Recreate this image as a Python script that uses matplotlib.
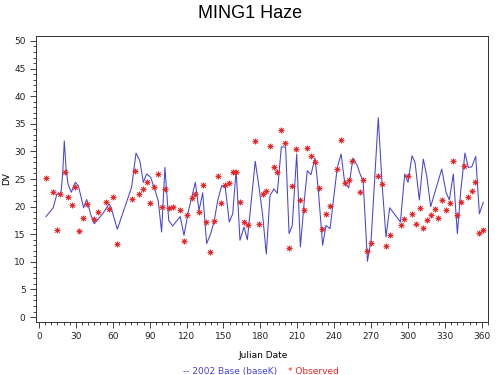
import matplotlib
matplotlib.use("Agg")
import matplotlib.pyplot as plt
from matplotlib.ticker import MultipleLocator

obs_day = [5.5, 11.5, 14.6, 17.3, 20.9, 23.6, 26.6, 29.5, 32.8, 35.8, 38.8, 45.0, 48.0, 54.2, 57.2,
           60.2, 63.2, 75.3, 78.3, 81.6, 84.8, 87.5, 90.2, 93.5, 96.7, 99.7, 102.7, 105.7, 108.7,
           114.6, 117.6, 120.6, 124.1, 127.1, 130.1, 133.1, 136.0, 139.0, 142.3, 145.3, 148.2,
           151.5, 154.5, 157.5, 160.4, 163.7, 166.7, 169.7, 175.9, 178.9, 181.8, 184.8, 187.8,
           190.8, 193.7, 196.7, 200.0, 203.0, 205.9, 208.9, 212.2, 215.2, 218.1, 221.1, 224.4,
           227.4, 230.3, 233.3, 236.3, 242.5, 245.5, 248.5, 251.8, 254.7, 261.0, 263.7, 266.7,
           269.9, 275.9, 278.9, 281.9, 285.1, 294.1, 297.0, 300.2, 303.6, 306.5, 309.5, 312.4,
           315.7, 318.7, 321.7, 324.6, 327.6, 330.9, 333.9, 336.8, 339.8, 342.8, 345.8, 348.8,
           351.8, 354.7, 358.0, 361.0]
obs_val = [25.2, 22.7, 15.7, 22.3, 26.2, 21.8, 20.3, 23.5, 15.6, 17.9, 20.5, 17.7, 19.0, 20.9, 19.6,
           21.8, 13.2, 21.3, 26.4, 22.2, 23.1, 24.5, 20.6, 23.6, 25.9, 20.0, 23.2, 19.7, 20.0,
           19.3, 13.8, 18.5, 21.5, 22.3, 19.1, 24.0, 17.2, 11.7, 17.4, 25.6, 20.6,
           24.0, 24.2, 26.2, 26.3, 20.9, 17.2, 16.7, 31.9, 16.8, 22.2, 22.8, 31.0,
           27.1, 26.2, 33.9, 31.6, 12.5, 23.8, 30.5, 21.2, 19.4, 30.7, 29.1, 28.0,
           23.3, 16.0, 18.7, 20.2, 26.9, 32.0, 24.2, 24.8, 28.2, 22.7, 24.9, 12.0,
           13.4, 25.5, 24.1, 12.9, 14.8, 16.7, 17.8, 25.5, 18.7, 16.9, 19.8, 16.1,
           17.5, 18.4, 19.5, 17.9, 21.2, 19.4, 20.6, 28.2, 18.5, 20.9, 27.3, 21.8,
           22.9, 24.5, 15.3, 15.8]

model_day = [5.7, 11.6, 14.6, 17.9, 19.3, 20.6, 22.0, 23.6, 26.3, 29.5, 32.0, 36.3, 38.8, 42.3, 45.0,
             51.8, 57.0, 58.5, 63.7, 75.3, 78.9, 82.0, 84.8, 87.5, 90.8, 94.3, 97.0, 99.7, 102.4,
             105.5, 108.7, 114.8, 117.9, 121.3, 127.1, 130.1, 133.1, 136.3, 139.6, 142.3, 145.3,
             148.5, 151.5, 154.7, 157.5, 160.3, 163.4, 166.7, 169.4, 175.8, 178.9, 181.8, 184.8,
             187.8, 191.0, 193.7, 197.0, 200.5, 203.3, 205.9, 209.5, 212.5, 215.7, 218.1, 221.1,
             224.4, 227.0, 230.6, 233.3, 236.6, 242.5, 245.6, 248.5, 251.8, 255.2, 258.8, 261.2,
             263.5, 267.0, 270.0, 275.8, 278.9, 282.1, 285.1, 293.8, 297.3, 300.0, 303.2, 305.7,
             309.2, 312.4, 315.2, 318.4, 327.4, 330.9, 333.6, 336.8, 340.1, 343.0, 346.3, 349.0,
             351.8, 355.0, 358.0, 361.2]
model_val = [18.2, 19.8, 22.3, 22.4, 26.0, 31.9, 27.0, 24.1, 22.6, 24.4, 23.8, 19.8, 21.3, 18.4, 16.9,
             18.7, 20.5, 19.9, 15.9, 23.5, 29.7, 28.3, 24.4, 25.9, 25.3, 23.0, 21.0, 15.4, 27.1,
             17.5, 16.5, 18.2, 14.8, 19.0, 24.4, 19.3, 22.5, 13.3, 15.1, 17.2, 21.1,
             23.8, 23.4, 17.2, 18.7, 26.6, 13.9, 16.3, 14.0, 28.2, 23.5, 18.5, 11.4,
             22.0, 23.2, 22.4, 30.8, 30.8, 15.1, 16.6, 29.5, 12.7, 21.1, 26.5, 25.8,
             28.8, 23.2, 13.0, 16.6, 16.0, 27.1, 29.5, 24.4, 23.4, 28.8, 27.4, 25.8,
             24.7, 10.1, 14.0, 36.1, 24.1, 14.5, 19.8, 17.2, 25.9, 24.4, 29.2, 28.0,
             21.2, 28.6, 25.6, 20.0, 26.8, 22.6, 21.2, 25.9, 15.1, 23.2, 29.7, 27.1,
             27.2, 29.1, 18.7, 20.8]

x_ticks = [0, 30, 60, 90, 120, 150, 180, 210, 240, 270, 300, 330, 360]
y_ticks = [0, 5, 10, 15, 20, 25, 30, 35, 40, 45, 50]

LINE_C = "#4444d8"
OBS_C = "#e82828"

fig = plt.figure(figsize=(5.0, 3.75), dpi=100)
ax = fig.add_axes([0.072, 0.1413, 0.904, 0.7627])

ax.plot(model_day, model_val, color=LINE_C, lw=0.75, zorder=2)
ax.plot(obs_day, obs_val, linestyle="none", marker=(8, 2, 0), markersize=4,
        markeredgecolor=OBS_C, markeredgewidth=0.6, color=OBS_C, zorder=3)

ax.set_xlim(-2.4, 365)
ax.set_ylim(-0.9, 50.9)
ax.set_xticks(x_ticks)
ax.set_yticks(y_ticks)
ax.xaxis.set_minor_locator(MultipleLocator(5))
ax.yaxis.set_minor_locator(MultipleLocator(1))
ax.tick_params(axis="both", which="major", direction="out", length=4, width=0.6,
               labelsize=6.5, colors="#222222")
ax.tick_params(axis="both", which="minor", direction="out", length=2, width=0.5)
for s in ax.spines.values():
    s.set_linewidth(0.7)
    s.set_color("#333333")

ax.set_ylabel("DV", fontsize=6.5, labelpad=2)
fig.text(0.526, 0.053, "Julian Date", ha="center", va="center", fontsize=6.5)
fig.text(0.5, 0.963, "MING1 Haze", ha="center", va="center", fontsize=13,
         family="Liberation Sans")
fig.text(0.555, 0.01, "-- 2002 Base (baseK)", ha="right", va="center", fontsize=6.5,
         color=LINE_C)
fig.text(0.575, 0.01, "* Observed", ha="left", va="center", fontsize=6.5, color=OBS_C)

fig.savefig("out.png", dpi=100)
